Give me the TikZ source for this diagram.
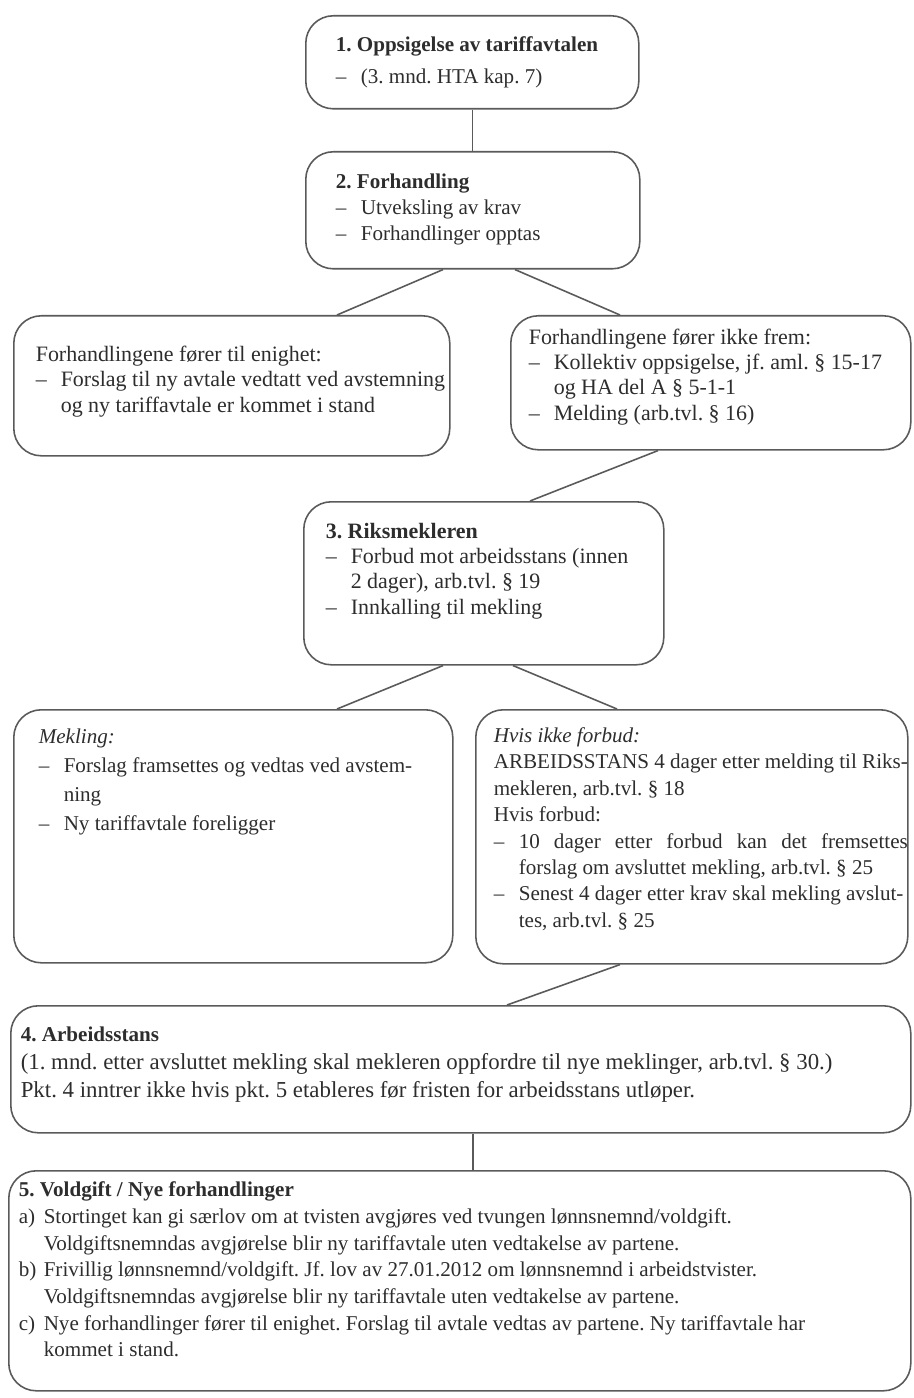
\documentclass[tikz,border=0pt]{standalone}
\usepackage{fontspec}
\setmainfont{Liberation Serif}
\usepackage{xcolor}
\usepackage{tikz}
\usetikzlibrary{calc}
\definecolor{linegray}{RGB}{90,90,90}
\definecolor{textgray}{RGB}{45,45,45}
\frenchspacing
\newlength{\px}\setlength{\px}{0.02cm}
\newlength{\itemhang}\setlength{\itemhang}{25\px}
% box body: width, height, left pad, top pad, text (all in px)
\newcommand{\card}[5]{\parbox[c][#2\px][t]{#1\px}{\leftskip=#3\px\rightskip=0pt minus 20pt\vspace*{#4\px}#5}}
\newcommand{\itm}[2][\textendash]{\par\hangindent=\itemhang\hangafter=1\noindent\makebox[\itemhang][l]{#1}#2\par}

\begin{document}
\begin{tikzpicture}[
  x=0.02cm, y=-0.02cm,
  card/.style={draw=linegray, line width=0.9pt, rounded corners=0.55cm,
               inner sep=0pt, anchor=north west, text=textgray,
               font=\fontsize{12}{14.8}\selectfont},
  link/.style={draw=linegray, line width=0.9pt},
]
\useasboundingbox (0,0) rectangle (913,1398);

% --- Steps 1 and 2 ---
\node[card, font=\fontsize{12}{18}\selectfont] (opps) at (305,15) {\card{333}{93}{30}{21}{%
  \textbf{1. Oppsigelse av tariffavtalen}\par
  \itm{(3. mnd. HTA kap. 7)}}};
\node[card] (forh) at (305,151) {\card{334}{117}{30}{22}{%
  \textbf{2. Forhandling}\par
  \itm{Utveksling av krav}
  \itm{Forhandlinger opptas}}};

% --- Outcome of the negotiations ---
\node[card, font=\fontsize{12.5}{14.6}\selectfont] (enig) at (13,315) {\card{436}{140}{22}{30}{%
  Forhandlingene fører til enighet:\par
  \itm{Forslag til ny avtale vedtatt ved avstemning\\og ny tariffavtale er kommet i stand}}};
\node[card, font=\fontsize{12.5}{14.4}\selectfont] (ikke) at (510,315) {\card{400}{134}{18}{13}{%
  Forhandlingene fører ikke frem:\par
  \itm{Kollektiv oppsigelse, jf. aml. § 15-17\\og HA del A § 5-1-1}
  \itm{Melding (arb.tvl. § 16)}}};

% --- Step 3 ---
\node[card, font=\fontsize{12.5}{14.5}\selectfont] (riks) at (303,501) {\card{360}{163}{22}{21}{%
  \textbf{3. Riksmekleren}\par
  \itm{Forbud mot arbeidsstans (innen\\2 dager), arb.tvl. § 19}
  \itm{Innkalling til mekling}}};

% --- Mediation or prohibition ---
\node[card, font=\fontsize{12}{16.5}\selectfont] (mekl) at (13,709) {\card{439}{253}{25}{19}{%
  \textit{Mekling:}\par
  \itm{Forslag framsettes og vedtas ved avstem-\\ning}
  \itm{Ny tariffavtale foreligger}}};
\node[card, font=\fontsize{12}{15}\selectfont] (forb) at (475,709) {\card{432}{254}{18}{18}{%
  \textit{Hvis ikke forbud:}\par
  ARBEIDSSTANS 4 dager etter melding til Riks-\\mekleren, arb.tvl. § 18\par
  Hvis forbud:\par
  \itm{10 dager etter forbud kan det fremsettes\linebreak forslag om avsluttet mekling, arb.tvl. § 25}
  \itm{Senest 4 dager etter krav skal mekling avslut-\\tes, arb.tvl. § 25}}};

% --- Steps 4 and 5 ---
\node[card, font=\fontsize{13}{16}\selectfont] (stans) at (10,1005) {\card{900}{127}{10}{21}{%
  {\fontsize{12}{16}\selectfont\textbf{4. Arbeidsstans}}\par
  (1. mnd. etter avsluttet mekling skal mekleren oppfordre til nye meklinger, arb.tvl. § 30.)\par
  Pkt. 4 inntrer ikke hvis pkt. 5 etableres før fristen for arbeidsstans utløper.}};
\node[card, font=\fontsize{12}{15.2}\selectfont] (vold) at (8,1170) {\card{902}{220}{10}{11}{%
  \textbf{5. Voldgift / Nye forhandlinger}\par
  \itm[a)]{Stortinget kan gi særlov om at tvisten avgjøres ved tvungen lønnsnemnd/voldgift.\\Voldgiftsnemndas avgjørelse blir ny tariffavtale uten vedtakelse av partene.}
  \itm[b)]{Frivillig lønnsnemnd/voldgift. Jf. lov av 27.01.2012 om lønnsnemnd i arbeidstvister.\\Voldgiftsnemndas avgjørelse blir ny tariffavtale uten vedtakelse av partene.}
  \itm[c)]{Nye forhandlinger fører til enighet. Forslag til avtale vedtas av partene. Ny tariffavtale har\\kommet i stand.}}};

% --- Connectors ---
\draw[link] (opps.south) -- (opps.south |- forh.north);
\draw[link] ($(forh.south west)+(138,0)$) -- ($(enig.north west)+(324,0)$);
\draw[link] ($(forh.south west)+(210,0)$) -- ($(ikke.north west)+(110,0)$);
\draw[link] ($(ikke.south west)+(148,0)$) -- ($(riks.north west)+(227,0)$);
\draw[link] ($(riks.south west)+(140,0)$) -- ($(mekl.north west)+(324,0)$);
\draw[link] ($(riks.south west)+(210,0)$) -- ($(forb.north west)+(142,0)$);
\draw[link] ($(forb.south west)+(145,0)$) -- ($(stans.north west)+(497,0)$);
\draw[link] ($(stans.south west)+(463,0)$) -- ($(vold.north west)+(465,0)$);
\end{tikzpicture}
\end{document}
